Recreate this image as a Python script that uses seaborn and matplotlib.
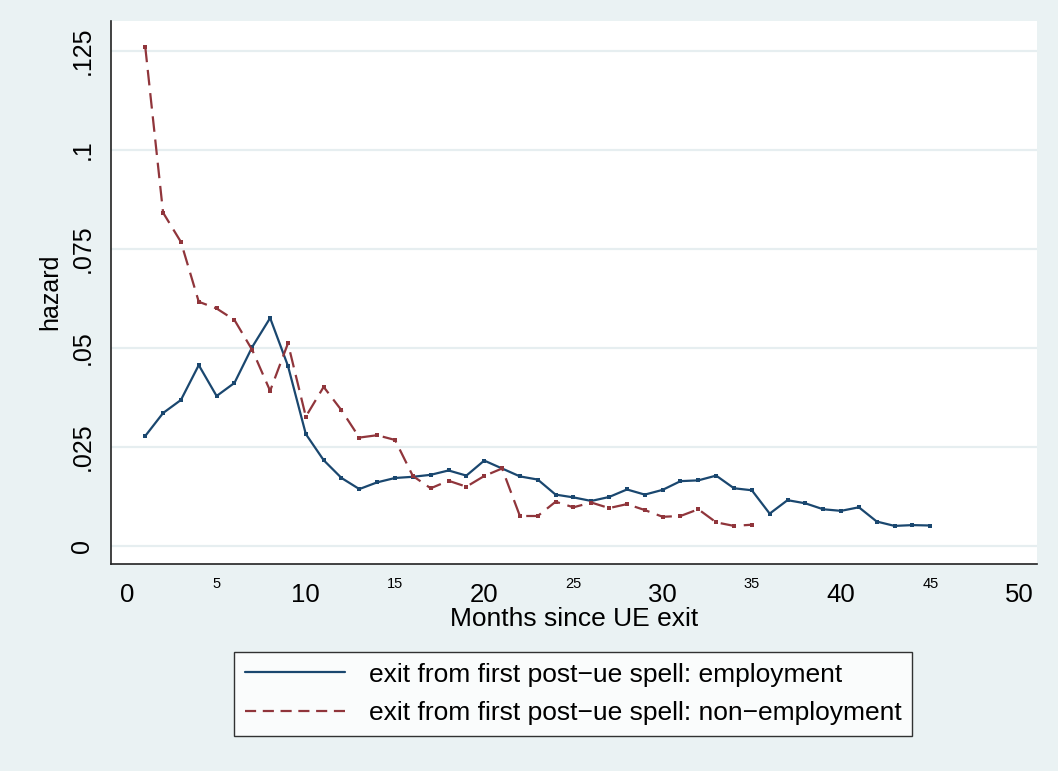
import numpy as np
import pandas as pd
import matplotlib
matplotlib.use("Agg")
import matplotlib.pyplot as plt
import seaborn as sns

# hazard by month since UE exit
months_emp = list(range(1, 46))
haz_emp = [0.0278, 0.0336, 0.0369, 0.0457, 0.0379, 0.0412, 0.0503, 0.0576, 0.0455, 0.0283,
           0.0217, 0.0172, 0.0144, 0.0161, 0.0172, 0.0175, 0.0180, 0.0191, 0.0178, 0.0216,
           0.0196, 0.0176, 0.0168, 0.0130, 0.0123, 0.0114, 0.0124, 0.0143, 0.0130, 0.0142,
           0.0164, 0.0166, 0.0178, 0.0146, 0.0141, 0.0082, 0.0116, 0.0108, 0.0093, 0.0089,
           0.0098, 0.0062, 0.0051, 0.0053, 0.0052]

months_non = list(range(1, 36))
haz_non = [0.1261, 0.0842, 0.0768, 0.0617, 0.0600, 0.0571, 0.0495, 0.0392, 0.0512, 0.0327,
           0.0402, 0.0343, 0.0274, 0.0280, 0.0268, 0.0177, 0.0146, 0.0165, 0.0150, 0.0177,
           0.0196, 0.0076, 0.0076, 0.0112, 0.0098, 0.0110, 0.0096, 0.0106, 0.0091, 0.0074,
           0.0076, 0.0093, 0.0060, 0.0051, 0.0054]

lab_emp = "exit from first post\u2212ue spell: employment"
lab_non = "exit from first post\u2212ue spell: non\u2212employment"

df = pd.concat([
    pd.DataFrame({"month": months_emp, "hazard": haz_emp, "series": lab_emp}),
    pd.DataFrame({"month": months_non, "hazard": haz_non, "series": lab_non}),
])

sns.set_style("white", {"text.color": "black", "axes.labelcolor": "black",
                        "xtick.color": "black", "ytick.color": "black"})
plt.rcParams["font.family"] = ["Liberation Sans", "DejaVu Sans"]

bg = "#EAF2F3"
navy = "#1A476F"
maroon = "#90353B"
fig = plt.figure(figsize=(10.58, 7.71), dpi=100, facecolor=bg)
ax = fig.add_axes([0.1049, 0.2691, 0.8752, 0.7037])
ax.set_facecolor("white")

sns.lineplot(data=df, x="month", y="hazard", hue="series", style="series",
             palette={lab_emp: navy, lab_non: maroon},
             dashes={lab_emp: "", lab_non: (7, 3.5)},
             markers={lab_emp: "s", lab_non: "s"}, markersize=2.5, markeredgewidth=0,
             linewidth=1.6, ax=ax, legend=False)

ax.set_xlim(-0.92, 50.98)
ax.set_ylim(-0.0044, 0.1326)

yt = [0, 0.025, 0.05, 0.075, 0.1, 0.125]
ax.set_yticks(yt)
ax.set_yticklabels(["0", ".025", ".05", ".075", ".1", ".125"], rotation=90, va="center", fontsize=18)
ax.set_xticks([0, 10, 20, 30, 40, 50])
ax.set_xticklabels(["0", "10", "20", "30", "40", "50"], fontsize=18.5)
ax.set_xticks([5, 15, 25, 35, 45], minor=True)
ax.set_xticklabels(["5", "15", "25", "35", "45"], minor=True, fontsize=10.5)
ax.tick_params(axis="x", which="major", direction="out", length=9, width=1, color="#222222", pad=5)
ax.tick_params(axis="x", which="minor", direction="out", length=9, width=1, color="#222222", pad=1)
ax.tick_params(axis="y", direction="out", length=8, width=1, color="#222222", pad=4)
for y in yt:
    ax.axhline(y, color="#E6EEF0", lw=1.6, zorder=0)

for s in ["top", "right"]:
    ax.spines[s].set_visible(False)
for s in ["left", "bottom"]:
    ax.spines[s].set_color("#222222")
    ax.spines[s].set_linewidth(1.2)

ax.set_xlabel("Months since UE exit", fontsize=19, labelpad=0)
ax.set_ylabel("hazard", fontsize=18, labelpad=6)

h1 = plt.Line2D([], [], color=navy, lw=1.6)
h2 = plt.Line2D([], [], color=maroon, lw=1.6, dashes=(5, 3))
leg = fig.legend([h1, h2], [lab_emp, lab_non], loc="center", bbox_to_anchor=(0.542, 0.1),
                 fontsize=19, frameon=True, fancybox=False, handlelength=3.8, handletextpad=0.9,
                 borderpad=0.4, labelspacing=0.55, borderaxespad=0)
leg.get_frame().set_edgecolor("black")
leg.get_frame().set_linewidth(1)
leg.get_frame().set_facecolor("white")

fig.savefig("out.png", dpi=100, facecolor=bg)
